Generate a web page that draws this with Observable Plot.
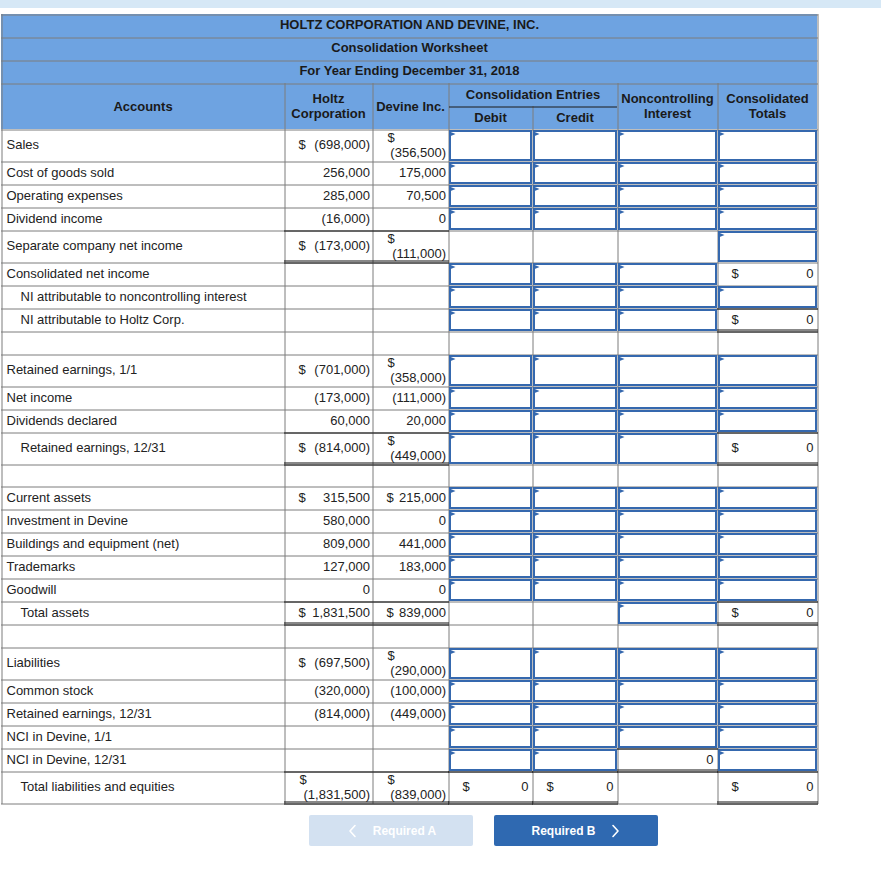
<!DOCTYPE html>
<html><head><meta charset="utf-8">
<script src="https://cdn.jsdelivr.net/npm/d3@7"></script>
<script src="https://cdn.jsdelivr.net/npm/@observablehq/plot@0.6"></script>
<style>html,body{margin:0;padding:0;background:#fff;} svg{display:block}</style>
</head><body><div id="chart"></div>
<script>
// ---------------- DATA ----------------
const titleLines = ["HOLTZ CORPORATION AND DEVINE, INC.", "Consolidation Worksheet", "For Year Ending December 31, 2018"];
const columnHeaders = ["Accounts", "Holtz\nCorporation", "Devine Inc.", "Debit", "Credit", "Noncontrolling\nInterest", "Consolidated\nTotals"];
const groupHeader = "Consolidation Entries";
const accounts = [
  "Sales", "Cost of goods sold", "Operating expenses", "Dividend income", "Separate company net income",
  "Consolidated net income", "NI attributable to noncontrolling interest", "NI attributable to Holtz Corp.", "",
  "Retained earnings, 1/1", "Net income", "Dividends declared", "Retained earnings, 12/31", "",
  "Current assets", "Investment in Devine", "Buildings and equipment (net)", "Trademarks", "Goodwill", "Total assets", "",
  "Liabilities", "Common stock", "Retained earnings, 12/31", "NCI in Devine, 1/1", "NCI in Devine, 12/31", "Total liabilities and equities"
];
const subtotalRows = [6, 7, 12, 19, 26];
const holtz = [-698000, 256000, 285000, -16000, -173000, null, null, null, null,
  -701000, -173000, 60000, -814000, null,
  315500, 580000, 809000, 127000, 0, 1831500, null,
  -697500, -320000, -814000, null, null, -1831500];
const devine = [-356500, 175000, 70500, 0, -111000, null, null, null, null,
  -358000, -111000, 20000, -449000, null,
  215000, 0, 441000, 183000, 0, 839000, null,
  -290000, -100000, -449000, null, null, -839000];
const dollarRows = [0, 4, 9, 12, 14, 19, 21, 26];
const totalRows = [4, 12, 19, 26];
// Debit, Credit, Noncontrolling Interest, Consolidated Totals: I = input box, = = computed total, ~ = computed, - = empty
const entryCells = ["IIII", "IIII", "IIII", "IIII", "---I", "III~", "IIII", "III=", "----",
  "IIII", "IIII", "IIII", "III=", "----",
  "IIII", "IIII", "IIII", "IIII", "IIII", "--I=", "----",
  "IIII", "IIII", "IIII", "IIII", "II=I", "==-="];
const computedValues = [0, 0, 0, 0, 0, 0, 0, 0, 0];
const computedDollar = [true, true, true, true, false, true, true, true];
const buttons = ["Required A", "Required B"];

// ---------------- LAYOUT ----------------
const colEdges = [1, 284, 372, 448, 532, 617, 717, 817];
const topBarH = 8, titleTop = 14, titleRowH = 23, headTop = 83, bodyTop = 129;
const rowH = 22.95, tallRowH = 32;
const headerBlue = "#6ea3e1", gridGray = "#7c7c7c", inputBlue = "#3568ae", ink = "#222", topBar = "#d6e8f6";
const font = "'Liberation Sans', Arial, Helvetica, sans-serif";
const colL = c => colEdges[c], colR = c => colEdges[c + 1], colC = c => (colEdges[c] + colEdges[c + 1]) / 2;

const ctx = document.createElement("canvas").getContext("2d");
ctx.font = "13px 'Liberation Sans', Arial, sans-serif";
const f = d3.format(",");
const fmt = v => v == null ? "" : v < 0 ? `(${f(-v)})` : f(v);
const wraps = (text, c) => ctx.measureText("$ " + text).width > (colR(c) - colL(c)) - 14;

const rows = accounts.map((label, i) => {
  const dollar = dollarRows.includes(i);
  const cells = [holtz[i], devine[i]].map((v, k) => ({v, text: fmt(v), col: k + 1, wrap: dollar && v != null && wraps(fmt(v), k + 1)}));
  return {i, label, indent: subtotalRows.includes(i), dollar, cells, tall: cells.some(c => c.wrap)};
});
let yy = bodyTop;
rows.forEach(r => { r.top = Math.round(yy); yy += r.tall ? tallRowH : rowH; r.bottom = Math.round(yy); r.mid = (r.top + r.bottom) / 2; });
const tableBottom = rows[rows.length - 1].bottom;

const valueCells = rows.flatMap(r => r.cells.map(c => ({...c, row: r}))).filter(c => c.v != null);
const entries = rows.flatMap(r => [...entryCells[r.i]].map((kind, j) => ({row: r, col: j + 3, kind})));
const computed = entries.filter(e => e.kind === "=" || e.kind === "~");
computed.forEach((e, n) => { e.value = computedValues[n]; e.dollar = computedDollar[n]; });
const inputs = entries.filter(e => e.kind === "I");

const hLines = [titleTop, titleTop + titleRowH, titleTop + 2 * titleRowH, headTop, ...rows.map(r => r.top), tableBottom];
const vLines = [
  {x: colEdges[0], y1: titleTop, y2: tableBottom + 1},
  {x: colEdges[7], y1: titleTop, y2: tableBottom + 1},
  ...[1, 2, 3, 5, 6].map(k => ({x: colEdges[k], y1: headTop, y2: tableBottom + 1})),
  {x: colEdges[4], y1: headTop + titleRowH, y2: tableBottom + 1}
];
const blackRules = [];
totalRows.forEach(i => {
  const r = rows[i];
  [r.top + 0.5, r.bottom - 1.5, r.bottom + 0.5].forEach(y => blackRules.push({x1: colEdges[1], x2: colEdges[3] + 1, y}));
});
computed.filter(e => e.kind === "=").forEach(e => {
  [e.row.top + 0.5, e.row.bottom - 1.5, e.row.bottom + 0.5].forEach(y => blackRules.push({x1: colL(e.col), x2: colR(e.col) + 1, y}));
});

const flag = {draw(c) { c.moveTo(-2.5, -2.6); c.lineTo(3.5, 0); c.lineTo(-2.5, 2.6); c.closePath(); }};

const btnW = 164, btnGap = 21, btnTop = tableBottom + 12, btnH = 31;
const btnX0 = colL(2) - 63;
const btns = buttons.map((label, i) => ({label, i, x1: btnX0 + i * (btnW + btnGap), x2: btnX0 + i * (btnW + btnGap) + btnW,
  fill: i === 0 ? "#d3e1f1" : "#2f69b1"}));
const chevrons = btns.flatMap(b => {
  const cx = b.i === 0 ? b.x1 + 43 : b.x1 + 121, dir = b.i === 0 ? -1 : 1, cy = btnTop + btnH / 2;
  return [[cx - 2.5 * dir, cy - 5.5], [cx + 2.5 * dir, cy], [cx - 2.5 * dir, cy + 5.5]].map(p => ({b: b.i, x: p[0], y: p[1]}));
});

const headerMidY = (headTop + bodyTop) / 2;
const headerTexts = columnHeaders.map((t, k) => ({t, x: colC(k), y: (k === 3 || k === 4) ? headTop + titleRowH * 1.5 - 0.5 : headerMidY - 0.5}));

// ---------------- PLOT ----------------
const chart = Plot.plot({
  width: 881, height: 876, margin: 0,
  x: {type: "identity", axis: null}, y: {type: "identity", axis: null},
  style: {fontFamily: font, fontSize: "13px", background: "white", overflow: "visible"},
  marks: [
    Plot.rect([0], {x1: () => 0, x2: () => 881, y1: () => 0, y2: () => topBarH, fill: topBar}),
    Plot.rect([0], {x1: () => colEdges[0], x2: () => colEdges[7], y1: () => titleTop, y2: () => bodyTop, fill: headerBlue}),
    Plot.ruleY(hLines, {y: d => d + 0.5, x1: () => colEdges[0], x2: () => colEdges[7] + 1, stroke: gridGray, strokeWidth: 1}),
    Plot.ruleX(vLines, {x: d => d.x + 0.5, y1: "y1", y2: "y2", stroke: gridGray, strokeWidth: 1}),
    Plot.ruleY([groupHeader], {y: () => headTop + titleRowH + 0.5, x1: () => colL(3) + 1, x2: () => colR(4), stroke: "#1a1a1a", strokeWidth: 1}),
    Plot.rect(inputs, {x1: e => colL(e.col) + 2, x2: e => colR(e.col) - 1, y1: e => e.row.top + 2, y2: e => e.row.bottom - 1,
      fill: "white", stroke: inputBlue, strokeWidth: 2}),
    Plot.dot(inputs, {x: e => colL(e.col) + 3.5, y: e => e.row.top + 4.5, symbol: flag, fill: inputBlue, r: 3}),
    Plot.ruleY(blackRules, {y: "y", x1: "x1", x2: "x2", stroke: "#111", strokeWidth: 1}),
    // titles
    Plot.text(titleLines, {x: () => (colEdges[0] + colEdges[7]) / 2, y: (d, i) => titleTop + titleRowH * (i + 0.5) - 1, text: d => d,
      fontWeight: "bold", fontSize: 13, fill: "#1a1a1a"}),
    Plot.text(headerTexts, {x: "x", y: "y", text: "t", fontWeight: "bold", fontSize: 13, lineHeight: 1.15, fill: "#1a1a1a"}),
    Plot.text([groupHeader], {x: () => (colL(3) + colR(4)) / 2, y: () => headTop + titleRowH / 2 - 0.5, text: d => d, fontWeight: "bold", fontSize: 13, fill: "#1a1a1a"}),
    // account labels
    Plot.text(rows.filter(r => r.label), {x: r => r.indent ? 20 : 6, y: r => r.mid - 0.5, text: "label", textAnchor: "start", fontSize: 13, fill: ink}),
    // Holtz / Devine values
    Plot.text(valueCells, {x: c => colR(c.col) - 2.5, y: c => c.wrap ? c.row.bottom - 8.5 : c.row.mid - 0.5, text: "text", textAnchor: "end", fontSize: 13, fill: ink}),
    Plot.text(valueCells.filter(c => c.row.dollar), {x: c => colL(c.col) + (c.wrap ? 15 : 14), y: c => c.wrap ? c.row.top + 8 : c.row.mid - 0.5, text: () => "$", textAnchor: "start", fontSize: 13, fill: ink}),
    // computed entries
    Plot.text(computed, {x: e => colR(e.col) - 4, y: e => e.row.mid - 0.5, text: e => fmt(e.value), textAnchor: "end", fontSize: 13, fill: ink}),
    Plot.text(computed.filter(e => e.dollar), {x: e => colL(e.col) + 14, y: e => e.row.mid - 0.5, text: () => "$", textAnchor: "start", fontSize: 13, fill: ink}),
    // buttons
    Plot.rect(btns, {x1: "x1", x2: "x2", y1: () => btnTop, y2: () => btnTop + btnH, fill: "fill", rx: 2}),
    Plot.text(btns, {x: b => b.i === 0 ? b.x1 + 95 : b.x1 + 69, y: () => btnTop + btnH / 2, text: "label", fill: "white", fontWeight: "bold", fontSize: 12}),
    Plot.line(chevrons, {x: "x", y: "y", z: "b", stroke: "white", strokeWidth: 1.6, curve: "linear"})
  ]
});
document.getElementById("chart").appendChild(chart);
</script>
</body></html>
